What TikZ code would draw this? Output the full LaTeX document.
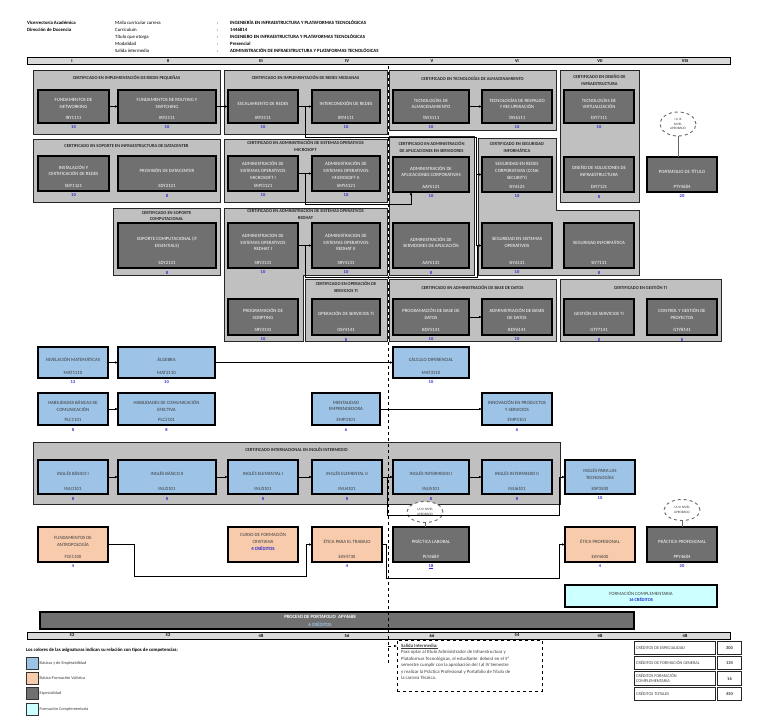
\documentclass[tikz,border=0pt]{standalone}
\usepackage{fontspec}
\setmainfont{Carlito}
\usetikzlibrary{arrows.meta,positioning,calc,shapes.geometric}

\definecolor{certgray}{RGB}{192,192,192}
\definecolor{specgray}{RGB}{112,112,112}
\definecolor{basblue}{RGB}{157,195,230}
\definecolor{valpeach}{RGB}{248,203,173}
\definecolor{compcyan}{RGB}{204,255,255}
\definecolor{credblue}{RGB}{40,40,210}
\definecolor{barfill}{RGB}{217,217,217}
\definecolor{darktext}{RGB}{60,60,60}

\tikzset{
  cert/.style={draw=black!85, fill=certgray, line width=0.8pt, outer sep=0pt, inner sep=0pt},
  certtitle/.style={font=\fontsize{4.5}{6.8}\selectfont\bfseries, align=center, inner sep=0pt, text=black!85},
  box/.style={draw=black, line width=1.1pt, outer sep=0pt, inner sep=0pt},
  spec/.style={box, fill=specgray},
  basic/.style={box, fill=basblue},
  valor/.style={box, fill=valpeach},
  comp/.style={box, fill=compcyan},
  spec txt/.style={text=white},
  basic txt/.style={text=darktext},
  valor txt/.style={text=darktext},
  lbl/.style={font=\fontsize{4.8}{6.8}\selectfont, align=center, inner sep=0pt},
  cred/.style={font=\fontsize{4.5}{5}\selectfont\bfseries, text=credblue, inner sep=0pt},
  arr/.style={-{Latex[length=3pt,width=2.6pt]}, line width=0.6pt},
  link/.style={line width=0.6pt},
  nivel/.style={ellipse, draw=black!60, dashed, line width=0.9pt, fill=white, inner sep=0pt,
    minimum width=36pt, minimum height=24pt, align=center, text=darktext,
    font=\fontsize{3.4}{4.2}\selectfont},
  bar/.style={draw=black, fill=barfill, line width=1pt, outer sep=0pt, inner sep=0pt},
  head/.style={anchor=west, inner sep=0pt, font=\fontsize{4.8}{6}\selectfont},
  small/.style={anchor=west, inner sep=0pt, font=\fontsize{4.3}{5.2}\selectfont, text=darktext},
  swatch/.style={draw=black!80, line width=1pt, minimum width=12pt, minimum height=12pt, inner sep=0pt, outer sep=0pt}
}

% #1 style, #2 name, #3 x, #4 y, #5 width, #6 height, #7 name, #8 code, #9 credits
\newcommand{\asig}[9]{%
  \node[#1, minimum width=#5pt, minimum height=#6pt, anchor=north west] (#2) at (#3,#4) {};
  \node[lbl, #1 txt] at ([yshift=3pt]#2.center) {#7};
  \node[lbl, #1 txt] at ([yshift=5pt]#2.south) {#8};
  \node[cred] at ([yshift=-4.5pt]#2.south) {#9};
}

\begin{document}
\begin{tikzpicture}[x=1pt,y=-1pt]
\useasboundingbox (0,0) rectangle (768,725);

% header
\node[head, font=\fontsize{4.8}{6}\selectfont\bfseries] at (27,23) {Vicerrectoría Académica};
\node[head, font=\fontsize{4.8}{6}\selectfont\bfseries] at (27,30) {Dirección de Docencia};
\foreach \y/\a/\b in {23/Malla curricular carrera/INGENIERÍA EN INFRAESTRUCTURA Y PLATAFORMAS TECNOLÓGICAS,
    30/Curriculum/1446814,
    37/Título que otorga/INGENIERO EN INFRAESTRUCTURA Y PLATAFORMAS TECNOLÓGICAS,
    44/Modalidad/Presencial,
    51/Salida intermedia/ADMINISTRACIÓN DE INFRAESTRUCTURA Y PLATAFORMAS TECNOLÓGICAS} {
  \node[head] at (115,\y) {\a};
  \node[head] at (217,\y) {:};
  \node[head, font=\fontsize{4.8}{6}\selectfont\bfseries] at (230,\y) {\b};
}

% semesters
\node[bar, minimum width=703pt, minimum height=7pt, anchor=north west] (sembar) at (27,58) {};
\foreach \x/\s in {72/I,168/II,261/III,347/IV,432/V,517/VI,600/VII,685/VIII}
  \node[font=\fontsize{4.5}{5}\selectfont\bfseries, inner sep=0pt] at (\x,61.5) {\s};

% certificates
\node[cert, minimum width=187pt, minimum height=64pt, anchor=north west] (cA) at (33,70) {};
\node[certtitle] at ([yshift=-8pt]cA.north) {CERTIFICADO EN IMPLEMENTACIÓN DE REDES PEQUEÑAS};
\node[cert, minimum width=163pt, minimum height=64pt, anchor=north west] (cB) at (224,70) {};
\node[certtitle] at ([yshift=-8pt]cB.north) {CERTIFICADO EN IMPLEMENTACIÓN DE REDES MEDIANAS};
\node[cert, minimum width=167pt, minimum height=60pt, anchor=north west] (cC) at (389,70) {};
\node[certtitle] at ([yshift=-8.5pt]cC.north) {CERTIFICADO EN TECNOLOGÍAS DE ALMACENAMIENTO};
\node[cert, minimum width=79pt, minimum height=132pt, anchor=north west] (cD) at (560,70) {};
\node[certtitle] at ([yshift=-10.5pt]cD.north) {CERTIFICADO EN DISEÑO DE\\INFRAESTRUCTURA};
\node[cert, minimum width=187pt, minimum height=63pt, anchor=north west] (cE) at (33,139) {};
\node[certtitle] at ([yshift=-7.5pt]cE.north) {CERTIFICADO EN SOPORTE EN INFRAESTRUCTURA DE DATACENTER};
\node[cert, minimum width=163pt, minimum height=63pt, anchor=north west] (cF) at (224,139) {};
\node[certtitle] at ([yshift=-7.5pt]cF.north) {CERTIFICADO EN ADMINISTRACIÓN DE SISTEMAS OPERATIVOS\\MICROSOFT};
\node[cert, minimum width=85pt, minimum height=139pt, anchor=north west] (cG) at (389,136) {};
\node[certtitle] at ([yshift=-11.5pt]cG.north) {CERTIFICADO EN ADMINISTRACIÓN\\DE APLICACIONES EN SERVIDORES};
\draw[cert] (478,138) -- (556,138) -- (556,210) -- (639,210) -- (639,275) -- (478,275) -- cycle;
\node[certtitle] at (517,147.5) {CERTIFICADO EN SEGURIDAD\\INFORMÁTICA};
\node[cert, minimum width=107pt, minimum height=67pt, anchor=north west] (cI) at (113,208) {};
\node[certtitle] at ([yshift=-8pt]cI.north) {CERTIFICADO EN SOPORTE\\COMPUTACIONAL};
\draw[cert] (224,208) -- (387,208) -- (387,275) -- (303,275) -- (303,341) -- (224,341) -- cycle;
\node[certtitle] at (305.5,214.5) {CERTIFICADO EN ADMINISTRACIÓN DE SISTEMAS OPERATIVOS\\REDHAT};
\node[cert, minimum width=82pt, minimum height=62pt, anchor=north west] (cK) at (305,279) {};
\node[certtitle] at ([yshift=-8.5pt]cK.north) {CERTIFICADO EN OPERACIÓN DE\\SERVICIOS TI};
\node[cert, minimum width=167pt, minimum height=62pt, anchor=north west] (cL) at (389,279) {};
\node[certtitle] at ([yshift=-9pt]cL.north) {CERTIFICADO EN ADMINISTRACIÓN DE BASE DE DATOS};
\node[cert, minimum width=161pt, minimum height=62pt, anchor=north west] (cM) at (560,279) {};
\node[certtitle] at ([yshift=-9pt]cM.north) {CERTIFICADO EN GESTIÓN TI};
\node[cert, minimum width=527pt, minimum height=62pt, anchor=north west] (cN) at (33,442) {};
\node[certtitle] at ([yshift=-7.5pt]cN.north) {CERTIFICADO INTERNACIONAL EN INGLÉS INTERMEDIO};

% specialty courses
\asig{spec}{fn}{38}{90}{71}{33}{FUNDAMENTOS DE\\NETWORKING}{IRY1111}{10}
\asig{spec}{frs}{118}{90}{98}{33}{FUNDAMENTOS DE ROUTING Y\\SWITCHING}{IRY2111}{10}
\asig{spec}{esc}{228}{90}{70}{33}{ESCALAMIENTO DE REDES}{IRY3111}{10}
\asig{spec}{inter}{312}{90}{68}{33}{INTERCONEXIÓN DE REDES}{IRY4111}{10}
\asig{spec}{talm}{393}{90}{76}{33}{TECNOLOGÍAS DE\\ALMACENAMIENTO}{TAY5111}{10}
\asig{spec}{tres}{482}{90}{70}{33}{TECNOLOGÍAS DE RESPALDO\\Y RECUPERACIÓN}{TAY6111}{10}
\asig{spec}{tvir}{564}{90}{70}{33}{TECNOLOGÍAS DE\\VIRTUALIZACIÓN}{DIY7111}{10}

\asig{spec}{inst}{38}{156}{71}{35}{INSTALACIÓN Y\\CERTIFICACIÓN DE REDES}{SDY1121}{10}
\asig{spec}{prov}{118}{156}{98}{35}{PROVISIÓN DE DATACENTER}{SDY2121}{8}
\asig{spec}{ms1}{228}{156}{70}{35}{ADMINISTRACIÓN DE\\SISTEMAS OPERATIVOS\\MICROSOFT I}{SMY3121}{10}
\asig{spec}{ms2}{312}{156}{68}{35}{ADMINISTRACIÓN DE\\SISTEMAS OPERATIVOS\\MICROSOFT II}{SMY4121}{10}
\asig{spec}{aapc}{393}{157}{76}{35}{ADMINISTRACIÓN DE\\APLICACIONES CORPORATIVAS}{AAY5121}{10}
\asig{spec}{sred}{482}{157}{70}{35}{SEGURIDAD EN REDES\\CORPORATIVAS (CCNA\\SECURITY)}{SIY6125}{10}
\asig{spec}{dsol}{564}{157}{70}{35}{DISEÑO DE SOLUCIONES DE\\INFRAESTRUCTURA}{DIY7121}{8}
\asig{spec}{port}{647}{157}{70}{35}{PORTAFOLIO DE TÍTULO}{PTY4684}{20}

\asig{spec}{sopc}{118}{223}{98}{45}{SOPORTE COMPUTACIONAL (IT\\ESSENTIALS)}{SDY2131}{8}
\asig{spec}{rh1}{228}{223}{70}{45}{ADMINISTRACION DE\\SISTEMAS OPERATIVOS\\REDHAT I}{SRY3131}{10}
\asig{spec}{rh2}{312}{223}{68}{45}{ADMINISTRACION DE\\SISTEMAS OPERATIVOS\\REDHAT II}{SRY4131}{10}
\asig{spec}{asrv}{393}{223}{76}{45}{ADMINISTRACIÓN DE\\SERVIDORES DE APLICACIÓN}{AAY5131}{8}
\asig{spec}{sso}{482}{223}{70}{45}{SEGURIDAD EN SISTEMAS\\OPERATIVOS}{SIY6131}{10}
\asig{spec}{sinf}{564}{223}{70}{45}{SEGURIDAD INFORMÁTICA}{SIY7131}{8}

\asig{spec}{scr}{228}{299}{70}{36}{PROGRAMACIÓN DE\\SCRIPTING}{SRY3141}{10}
\asig{spec}{ost}{312}{299}{68}{36}{OPERACIÓN DE SERVICIOS TI}{OSY4141}{8}
\asig{spec}{pbd}{393}{299}{76}{36}{PROGRAMACIÓN DE BASE DE\\DATOS}{BDY5141}{10}
\asig{spec}{abd}{482}{299}{70}{36}{ADMINISTRACIÓN DE BASES\\DE DATOS}{BDY6141}{10}
\asig{spec}{gst}{564}{299}{70}{36}{GESTIÓN DE SERVICIOS TI}{GTY7141}{8}
\asig{spec}{cgp}{647}{299}{70}{36}{CONTROL Y GESTIÓN DE\\PROYECTOS}{GTY8141}{8}

% basic courses
\asig{basic}{niv}{38}{347}{70}{31}{NIVELACIÓN MATEMÁTICAS}{MAT1110}{12}
\asig{basic}{alg}{118}{347}{97}{31}{ÁLGEBRA}{MAT2110}{10}
\asig{basic}{calc}{393}{347}{76}{31}{CÁLCULO DIFERENCIAL}{MAT3110}{10}
\asig{basic}{hbc}{38}{393}{70}{32}{HABILIDADES BÁSICAS DE\\COMUNICACIÓN}{PLC1101}{8}
\asig{basic}{hce}{118}{393}{97}{32}{HABILIDADES DE COMUNICACIÓN\\EFECTIVA}{PLC2101}{8}
\asig{basic}{ment}{312}{393}{68}{32}{MENTALIDAD\\EMPRENDEDORA}{EMP3101}{6}
\asig{basic}{innov}{482}{393}{70}{32}{INNOVACIÓN EN PRODUCTOS\\Y SERVICIOS}{EMP5101}{6}

\asig{basic}{ing1}{38}{460}{70}{34}{INGLÉS BÁSICO I}{INU1101}{8}
\asig{basic}{ing2}{118}{460}{98}{34}{INGLÉS BÁSICO II}{INU2101}{8}
\asig{basic}{ing3}{228}{460}{70}{34}{INGLÉS ELEMENTAL I}{INU3101}{8}
\asig{basic}{ing4}{312}{460}{70}{34}{INGLÉS ELEMENTAL II}{INU4101}{8}
\asig{basic}{ing5}{393}{460}{76}{34}{INGLÉS INTERMEDIO I}{INU5101}{8}
\asig{basic}{ing6}{482}{460}{70}{34}{INGLÉS INTERMEDIO II}{INU6101}{8}
\asig{basic}{ingt}{565}{460}{70}{34}{INGLÉS PARA LAS\\TECNOLOGÍAS}{ESP3500}{10}

% values and practice
\asig{valor}{antr}{38}{527}{70}{35}{FUNDAMENTOS DE\\ANTROPOLOGÍA}{FCE1100}{4}
\asig{valor}{cfc}{228}{527}{70}{35}{CURSO DE FORMACIÓN\\CRISTIANA\\{\color{credblue}\bfseries 4 CRÉDITOS}}{}{}
\asig{valor}{etr}{312}{527}{70}{35}{ÉTICA PARA EL TRABAJO}{EAY4730}{4}
\asig{spec}{plab}{393}{527}{76}{35}{PRÁCTICA LABORAL}{PLY4689}{\underline{18}}
\asig{valor}{epr}{565}{527}{70}{35}{ÉTICA PROFESIONAL}{EAY4600}{4}
\asig{spec}{ppro}{647}{527}{70}{35}{PRÁCTICA PROFESIONAL}{PPY4684}{20}

\node[comp, minimum width=152pt, minimum height=22pt, anchor=north west] (fcomp) at (565,585) {};
\node[lbl, text=darktext] at ([yshift=2.5pt]fcomp.center) {FORMACIÓN COMPLEMENTARIA};
\node[cred] at ([yshift=-3.5pt]fcomp.center) {16 CRÉDITOS};

% levels
\node[nivel] (lv1) at (678,124) {I A III\\NIVEL\\APROBADO};
\node[nivel, minimum height=21pt] (lv2) at (425,512) {I A IV NIVEL\\APROBADO};
\node[nivel, minimum height=21pt] (lv3) at (682,510) {I A VI NIVEL\\APROBADO};
\draw[link, black!60, line width=1pt] (lv1.south) -- (lv1.south |- port.north);
\draw[link, black!60, line width=1pt] (lv2.south) -- (lv2.south |- plab.north);
\draw[link, black!60, line width=1pt] (lv3.south) -- (lv3.south |- ppro.north);

% connectors
\draw[arr] (fn) -- (frs);
\draw[arr] (frs) -- (esc);
\draw[arr] (esc) -- (inter);
\draw[arr] (talm) -- (tres);
\draw[arr] (ms1) -- (ms2);
\draw[arr] (rh1) -- (rh2);
\draw[arr] (pbd) -- (abd);
\draw[arr] (niv) -- (alg);
\draw[arr] (alg) -- (calc);
\draw[arr] (hbc) -- (hce);
\draw[arr] (ment) -- (innov);
\foreach \a/\b in {ing1/ing2,ing2/ing3,ing3/ing4,ing4/ing5,ing5/ing6}
  \draw[arr] (\a) -- (\b);

\coordinate (j1) at ($(esc.east)!.5!(inter.west)$);
\coordinate (bus1) at (476,137);
\draw[link] (j1) |- (bus1) -- (bus1 |- sso.west);
\draw[arr] (bus1 |- sred.west) -- (sred.west);
\draw[arr] (bus1 |- sso.west) -- (sso.west);

\coordinate (j2) at ($(ms1.east)!.5!(ms2.west)$);
\coordinate (b2) at (411,204);
\draw[arr] (j2) |- (b2) -- (b2 |- aapc.south);

\coordinate (j3) at ($(rh1.east)!.5!(rh2.west)$);
\coordinate (b3) at (477,277);
\draw[link] (j3) |- (b3) -- (b3 |- sso.west);

\coordinate (j4) at ($(ing4.east)!.5!(ing5.west)$);
\coordinate (b4) at (559,515);
\draw[arr] (j4) |- (b4) |- (ingt.west);

\coordinate (b5) at (134,576);
\coordinate (b6) at (306,576);
\draw[arr] (antr.east) -| (b5) -- (b6) |- (etr.west);
\coordinate (b7) at (386,578);
\coordinate (b8) at (559,578);
\draw[arr] (etr.east) -| (b7) -- (b8) |- (epr.west);

% portfolio and credits
\node[spec, minimum width=594pt, minimum height=17pt, anchor=north west] (portf) at (40,612) {};
\node[lbl, text=white, font=\fontsize{4.8}{6}\selectfont\bfseries] at (320,617) {PROCESO DE PORTAFOLIO\ \ APY4688};
\node[lbl, text=basblue, font=\fontsize{4.8}{6}\selectfont\bfseries] at (320,624.5) {6 CRÉDITOS};
\node[bar, minimum width=703pt, minimum height=7pt, anchor=north west] (credbar) at (27,632) {};
\foreach \x/\c in {72/52,168/52,261/48,347/56,432/66,517/54,600/48,685/48}
  \node[font=\fontsize{4.5}{5}\selectfont\bfseries, inner sep=0pt] at (\x,635.5) {\c};

% salida intermedia
\node[draw, dashed, line width=0.9pt, minimum width=145pt, minimum height=51pt, anchor=north west, inner sep=0pt] (salida) at (397,640) {};
\node[anchor=north west, inner sep=0pt, align=left, font=\fontsize{4.8}{6.5}\selectfont, text=darktext] at (401,643.5)
  {{\bfseries\underline{Salida Intermedia:}}\\
   Para optar al título Administrador de Infraestructura y\\
   Plataformas Tecnológicas, el estudiante\ \ deberá en el 5°\\
   semestre cumplir con la aprobación del I al IV Semestre\\
   y realizar la Práctica Profesional y Portafolio de Título de\\
   la carrera Técnica.};
\coordinate (dtop) at (388,66);
\coordinate (dbot) at (388,665);
\draw[dashed, line width=0.8pt] (dtop) -- (dbot);
\coordinate (d3) at (388,646);
\draw[arr, dashed] (d3) -- (d3 -| salida.west);

% credit totals
\foreach \y/\h/\t/\v in {641/13/CRÉDITOS DE ESPECIALIDAD/300,
    656/13/CRÉDITOS DE FORMACIÓN GENERAL/134,
    671/14/{CRÉDITOS FORMACIÓN\\COMPLEMENTARIA}/16,
    687/13/CRÉDITOS TOTALES/450} {
  \node[draw=black!85, line width=1pt, minimum width=81pt, minimum height=\h pt, anchor=north west, inner sep=0pt] (tl\y) at (634,\y) {};
  \node[small, align=left] at ([xshift=2pt]tl\y.west) {\t};
  \node[draw=black!85, line width=1pt, minimum width=24pt, minimum height=\h pt, anchor=north west, inner sep=0pt,
    font=\fontsize{4.5}{5}\selectfont\bfseries, text=darktext] (tv\y) at (717,\y) {\v};
}

% legend
\node[head, font=\fontsize{4.8}{6}\selectfont\bfseries] at (26,650) {Los colores de las asignaturas indican su relación con tipos de competencias:};
\foreach \y/\c/\t in {657/basblue/Básicas y de Empleabilidad,
    672/valpeach/Básica-Formación Valórica,
    687/specgray/Especialidad,
    703/compcyan/Formación Complementaria} {
  \node[swatch, fill=\c, anchor=north west] (sw\y) at (26,\y) {};
  \node[small] at ([xshift=1.5pt]sw\y.east) {\t};
}
\end{tikzpicture}
\end{document}
